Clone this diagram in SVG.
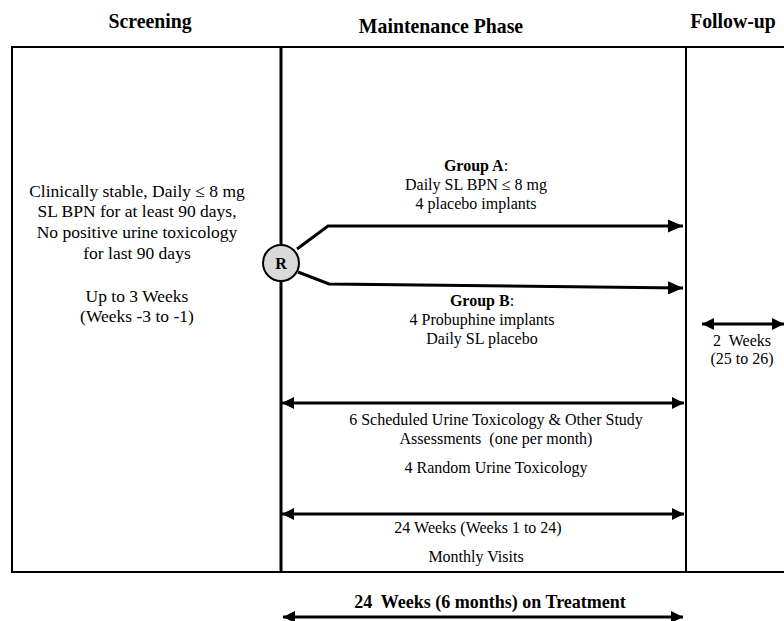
<svg xmlns="http://www.w3.org/2000/svg" width="784" height="621" viewBox="0 0 784 621">
<style>
  text { font-family: "Liberation Serif", "Times New Roman", serif; fill: #000; }
  .hdr { font-size: 22px; font-weight: bold; text-anchor: middle; }
  .t17 { font-size: 17.5px; text-anchor: middle; }
  .t16 { font-size: 16px; text-anchor: middle; }
  .b { font-weight: bold; }
  .frame { fill: none; stroke: #000; stroke-width: 2; }
  .ln { fill: none; stroke: #000; stroke-width: 3; }
</style>
<defs>
  <marker id="ah" viewBox="0 0 10 10" refX="10" refY="5" markerWidth="5" markerHeight="4.4" markerUnits="strokeWidth" orient="auto-start-reverse" preserveAspectRatio="none">
    <path d="M0,0 L10,5 L0,10 Z" fill="#000"/>
  </marker>
  <marker id="ahs" viewBox="0 0 10 10" refX="10" refY="5" markerWidth="4" markerHeight="4" markerUnits="strokeWidth" orient="auto-start-reverse">
    <path d="M0,0 L10,5 L0,10 Z" fill="#000"/>
  </marker>
</defs>
<rect width="784" height="621" fill="#fff"/>

<g id="headers">
  <text class="hdr" transform="translate(150,28) scale(0.9,1)">Screening</text>
  <text class="hdr" transform="translate(441,33) scale(0.9,1)">Maintenance Phase</text>
  <text class="hdr" transform="translate(733,28) scale(0.9,1)">Follow-up</text>
</g>

<g id="frame">
  <path class="frame" d="M784,47 H12 V572 H784"/>
  <line x1="281" y1="47" x2="281" y2="572" stroke="#000" stroke-width="3"/>
  <line x1="686" y1="47" x2="686" y2="572" stroke="#000" stroke-width="2"/>
</g>

<g id="screening">
  <text class="t17" x="137" y="197">Clinically stable, Daily ≤ 8 mg</text>
  <text class="t17" x="137" y="217">SL BPN for at least 90 days,</text>
  <text class="t17" x="137" y="238">No positive urine toxicology</text>
  <text class="t17" x="137" y="259">for last 90 days</text>
  <text class="t17" x="137" y="302">Up to 3 Weeks</text>
  <text class="t17" x="137" y="322">(Weeks -3 to -1)</text>
</g>

<g id="connectors">
  <polyline class="ln" points="297,249 328,226 683,226" marker-end="url(#ah)"/>
  <polyline class="ln" points="298,272 329,284 683,288" marker-end="url(#ah)"/>
  <line class="ln" x1="282" y1="403" x2="684" y2="403" marker-start="url(#ahs)" marker-end="url(#ahs)"/>
  <line class="ln" x1="282" y1="514" x2="684" y2="514" marker-start="url(#ahs)" marker-end="url(#ahs)"/>
  <line class="ln" x1="283" y1="617" x2="683" y2="617" marker-start="url(#ahs)" marker-end="url(#ahs)"/>
  <line class="ln" x1="702" y1="324" x2="784" y2="324" marker-start="url(#ahs)" marker-end="url(#ahs)"/>
</g>

<g id="node-R">
  <circle cx="281" cy="263" r="18" fill="#d9d9d9" stroke="#000" stroke-width="2"/>
  <text x="281" y="269" font-size="16" font-weight="bold" text-anchor="middle">R</text>
</g>

<g id="group-a">
  <text class="t16" x="476" y="171"><tspan class="b">Group A</tspan>:</text>
  <text class="t16" x="476" y="190">Daily SL BPN ≤ 8 mg</text>
  <text class="t16" x="476" y="209">4 placebo implants</text>
</g>

<g id="group-b">
  <text class="t16" x="482" y="306"><tspan class="b">Group B</tspan>:</text>
  <text class="t16" x="482" y="325">4 Probuphine implants</text>
  <text class="t16" x="482" y="344">Daily SL placebo</text>
</g>

<g id="followup">
  <text class="t16" x="742" y="346">2&#160; Weeks</text>
  <text class="t16" x="742" y="364">(25 to 26)</text>
</g>

<g id="assessments">
  <text class="t16" x="496" y="425">6 Scheduled Urine Toxicology &amp; Other Study</text>
  <text class="t16" x="496" y="444">Assessments&#160; (one per month)</text>
  <text class="t16" x="496" y="473">4 Random Urine Toxicology</text>
</g>

<g id="duration">
  <text class="t16" x="478" y="533">24 Weeks (Weeks 1 to 24)</text>
  <text class="t16" x="476" y="562">Monthly Visits</text>
</g>

<g id="treatment">
  <text x="490" y="608" font-size="18" font-weight="bold" text-anchor="middle">24&#160; Weeks (6 months) on Treatment</text>
</g>
</svg>
